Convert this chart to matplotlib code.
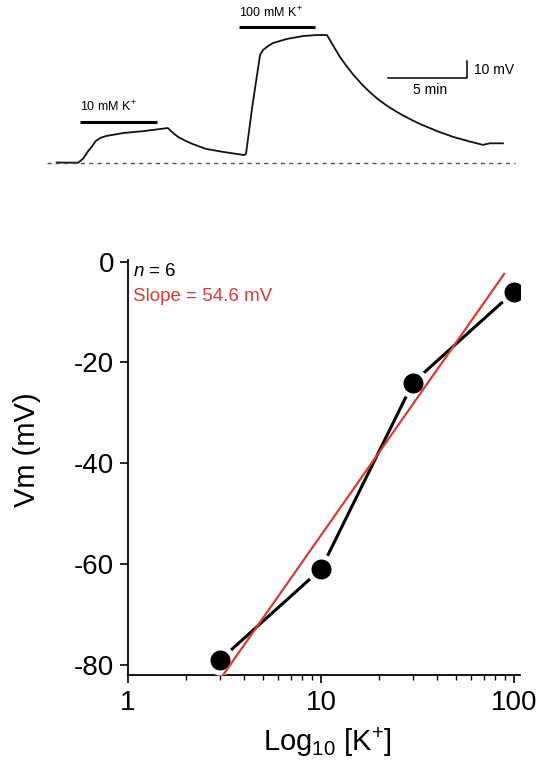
import numpy as np
import matplotlib
matplotlib.use("Agg")
from matplotlib import pyplot as plt
from matplotlib.ticker import LogLocator, NullFormatter, FixedLocator

plt.rcParams['font.family'] = ['Liberation Sans', 'DejaVu Sans']
plt.rcParams['mathtext.fontset'] = 'custom'
plt.rcParams['mathtext.rm'] = 'Liberation Sans'
plt.rcParams['mathtext.it'] = 'Liberation Sans:italic'

# membrane potential trace (time in min, mV above resting baseline)
trace_t = [0.0, 1.38, 1.7, 1.97, 2.25, 2.5, 2.8, 3.16, 4.28, 5.59, 7.1,
           7.4, 7.76, 8.2, 8.68, 9.54, 10.66, 11.97, 12.09, 12.5, 12.99,
           13.18, 13.5, 13.82, 14.71, 15.73, 16.62, 17.26, 17.45, 17.65, 18.09,
           18.5, 18.92, 19.5, 20.0, 20.5, 21.09, 21.7, 22.12, 22.7, 23.2,
           24.29, 25.31, 26.4, 27.22, 27.67, 28.5]
trace_v = [0.1, 0.0, 2.5, 6.3, 9.5, 12.8, 14.6, 15.7, 17.5, 18.6, 20.4,
           17.8, 15.1, 13.0, 11.0, 8.1, 6.3, 4.5, 5.1, 33.5, 63.4,
           66.3, 68.6, 70.4, 72.8, 74.5, 75.1, 75.1, 72.2, 69.0, 62.2,
           57.0, 52.0, 46.0, 41.5, 37.5, 33.5, 30.0, 27.8, 25.0, 22.8,
           18.6, 15.2, 12.4, 10.5, 11.4, 11.4]

# K+ application bars (start, stop in min)
bar10 = (1.51, 6.38)
bar100 = (11.64, 16.51)

# dose-response
k_conc = [3, 10, 30, 100]
vm = [-79, -61, -24, -6]
fit_slope = 54.6
fit_intercept = -108.9
fit_range = (3.1, 89)

fig = plt.figure(figsize=(5.41, 7.68), dpi=100)

# ---- top: trace ----
ax1 = fig.add_axes([0, 1 - 180 / 768, 1, 180 / 768])
ax1.set_xlim(-3.618, 30.93)
ax1.set_ylim(-10.18, 95.7)
ax1.axis('off')
ax1.plot(trace_t, trace_v, color='#111111', lw=1.3, solid_joinstyle='round')
ax1.plot([-0.59, 29.28], [0, 0], color='#555555', lw=1.0, ls=(0, (3, 3)))
ax1.plot(bar10, [23.9, 23.9], color='black', lw=2.2, solid_capstyle='butt')
ax1.plot(bar100, [79.8, 79.8], color='black', lw=2.2, solid_capstyle='butt')
ax1.text(bar10[0], 28.5, '10 mM K$^{+}$', fontsize=9, ha='left', va='bottom')
ax1.text(bar100[0], 84.0, '100 mM K$^{+}$', fontsize=9, ha='left', va='bottom')
# scale bar
sb_x, sb_y = 21.18, 49.8
ax1.plot([sb_x, sb_x + 5, sb_x + 5], [sb_y, sb_y, sb_y + 10], color='black', lw=1.1)
ax1.text(sb_x + 5.45, sb_y + 5, '10 mV', fontsize=10, ha='left', va='center')
ax1.text(sb_x + 2.65, sb_y - 7.0, '5 min', fontsize=10, ha='center', va='center')

# ---- bottom: Vm vs log[K+] ----
ax2 = fig.add_axes([128 / 541, 1 - 675 / 768, (520 - 128) / 541, (675 - 260) / 768])
ax2.set_xscale('log')
ax2.set_xlim(1, 107.5)
ax2.set_ylim(-82, 0.3)
ax2.plot(k_conc, vm, color='black', lw=2.2, zorder=2)
ax2.plot(k_conc, vm, 'o', color='black', ms=18, mec='white', mew=3.6, zorder=3)
fx = np.array(fit_range)
ax2.plot(fx, fit_slope * np.log10(fx) + fit_intercept, color='#d63c35', lw=1.6, zorder=4)

for s in ['top', 'right']:
    ax2.spines[s].set_visible(False)
for s in ['left', 'bottom']:
    ax2.spines[s].set_linewidth(1.3)
ax2.yaxis.set_major_locator(FixedLocator([-80, -60, -40, -20, 0]))
ax2.set_yticklabels(['-80', '-60', '-40', '-20', '0'])
ax2.xaxis.set_major_locator(FixedLocator([1, 10, 100]))
ax2.set_xticklabels(['1', '10', '100'])
ax2.xaxis.set_minor_locator(LogLocator(base=10, subs=np.arange(2, 10)))
ax2.xaxis.set_minor_formatter(NullFormatter())
ax2.tick_params(which='major', length=6, width=1.2, labelsize=20, pad=4)
ax2.tick_params(axis='x', which='major', pad=5)
ax2.tick_params(which='minor', length=3.5, width=1.0)
ax2.set_ylabel('Vm (mV)', fontsize=21)
ax2.yaxis.set_label_coords(-0.222, 0.542)
ax2.set_xlabel('Log$_{10}$ [K$^{+}$]', fontsize=21)
ax2.xaxis.set_label_coords(0.51, -0.122)

ax2.text(1.06, -2.0, '$n$ = 6', fontsize=13.5, ha='left', va='center')
ax2.text(1.06, -6.9, 'Slope = 54.6 mV', fontsize=13.5, color='#d63c35', ha='left', va='center')

fig.savefig('out.png', dpi=100)
